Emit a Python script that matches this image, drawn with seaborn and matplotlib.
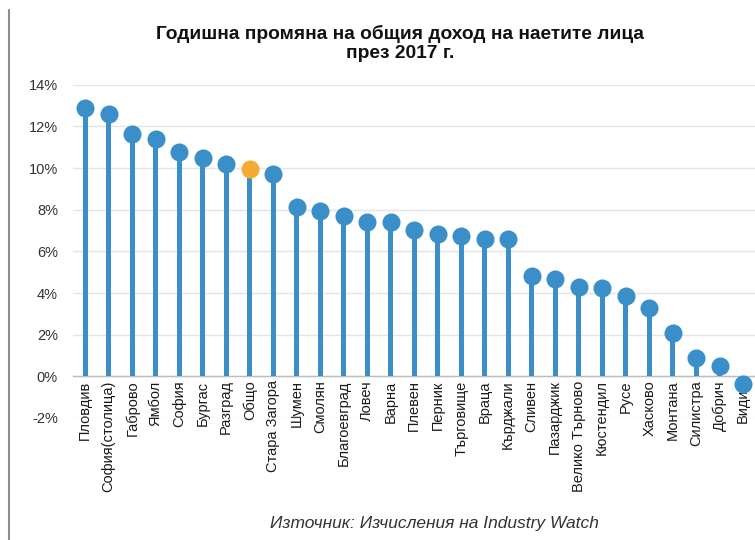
import numpy as np
import pandas as pd
import matplotlib
matplotlib.use("Agg")
import matplotlib.pyplot as plt
from matplotlib.lines import Line2D
from matplotlib.ticker import PercentFormatter, FixedLocator
import seaborn as sns

# ── Data ──────────────────────────────────────────────────
REGIONS = ["Пловдив", "София(столица)", "Габрово", "Ямбол", "София", "Бургас",
           "Разград", "Общо", "Стара Загора", "Шумен", "Смолян", "Благоевград",
           "Ловеч", "Варна", "Плевен", "Перник", "Търговище", "Враца", "Кърджали",
           "Сливен", "Пазарджик", "Велико Търново", "Кюстендил", "Русе", "Хасково",
           "Монтана", "Силистра", "Добрич", "Видин"]
CHANGE = [12.9, 12.6, 11.65, 11.4, 10.75, 10.5, 10.2, 9.97, 9.73, 8.15, 7.95,
          7.72, 7.43, 7.43, 7.05, 6.85, 6.76, 6.6, 6.6, 4.84, 4.65, 4.31, 4.22,
          3.84, 3.26, 2.1, 0.9, 0.48, -0.38]
HIGHLIGHT = "Общо"
Y_TICKS = [-2, 0, 2, 4, 6, 8, 10, 12, 14]

TITLE  = "Годишна промяна на общия доход на наетите лица\nпрез 2017 г."
SOURCE = "Източник: Изчисления на Industry Watch"

BLUE   = "#3a8fc8"
ORANGE = "#f6a935"

df = pd.DataFrame({"region": REGIONS, "change": CHANGE})
df["kind"] = np.where(df["region"] == HIGHLIGHT, "total", "region")

# ── Plot ──────────────────────────────────────────────────
sns.set_theme(style="white")
plt.rcParams["font.family"] = ["Liberation Sans", "DejaVu Sans"]
plt.rcParams["axes.unicode_minus"] = False

fig = plt.figure(figsize=(7.55, 5.4), dpi=100)
ax = fig.add_axes([0.097, 0.226, 0.903, 0.617])

sns.barplot(data=df, x="region", y="change", color=BLUE, width=0.21,
            saturation=1, linewidth=0, ax=ax, zorder=2)
sns.stripplot(data=df, x="region", y="change", hue="kind",
              palette={"region": BLUE, "total": ORANGE}, jitter=False,
              size=13, linewidth=0, legend=False, ax=ax, zorder=3)

ax.set_xlim(-0.51, 28.42)
ax.set_ylim(-2, 14)
ax.yaxis.set_major_locator(FixedLocator(Y_TICKS))
ax.yaxis.set_major_formatter(PercentFormatter(decimals=0))
ax.grid(axis="y", color="#e4e4e4", linewidth=1, zorder=0)
ax.set_axisbelow(True)
ax.set_xlabel(""); ax.set_ylabel("")

for s in ["top", "right", "left"]:
    ax.spines[s].set_visible(False)
ax.spines["bottom"].set_position(("data", 0))
ax.spines["bottom"].set_color("#bdbdbd")
ax.spines["bottom"].set_linewidth(1)
ax.spines["bottom"].set_zorder(1)

ax.tick_params(axis="x", which="major", length=0, rotation=90,
               labelsize=10.5, labelcolor="#1a1a1a", pad=3)
ax.set_xticks(np.arange(len(REGIONS)) + 0.5, minor=True)
ax.tick_params(axis="x", which="minor", length=5, color="#bdbdbd", width=1,
               direction="out")
ax.tick_params(axis="y", length=0, labelsize=10.5, labelcolor="#333333", pad=11)

fig.text(0.53, 0.92, TITLE, ha="center", va="center", fontsize=13.8,
         fontweight="bold", color="#111111", linespacing=1.12)
fig.text(0.576, 0.031, SOURCE, ha="center", va="center", fontsize=12.5,
         style="italic", color="#333333")

# left frame line of the original screenshot
fig.add_artist(Line2D([9 / 755, 9 / 755], [0, 1 - 10 / 540],
                      transform=fig.transFigure, color="#8c8c8c", linewidth=1.5))

fig.savefig("out.png", dpi=100)
